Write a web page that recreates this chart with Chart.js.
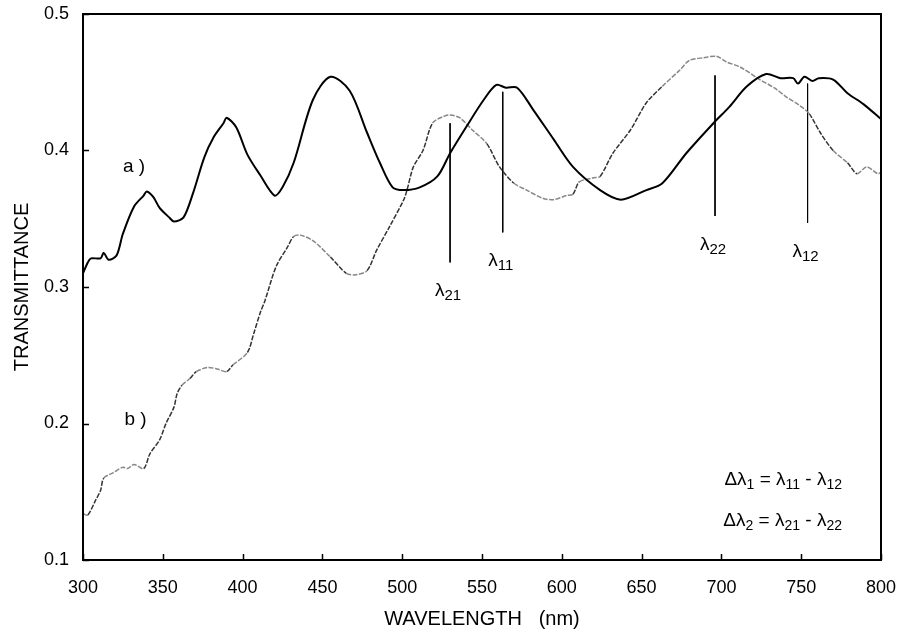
<!DOCTYPE html>
<html>
<head>
<meta charset="utf-8">
<script src="https://cdn.jsdelivr.net/npm/chart.js@4.4.1/dist/chart.umd.min.js"></script>
<style>
  body { margin: 0; background: #fff; }
</style>
</head>
<body>
<canvas id="spectrumChart" width="899" height="634"></canvas>
<script>
// curve a) (solid)
var wavelengthA = [300, 303, 305, 311, 313, 316, 321, 325, 332, 338, 340, 344, 348, 354, 357, 363, 369, 376, 382, 388,
    390, 396, 403, 411, 420, 425, 432, 444, 455, 467, 478, 486, 494, 501, 511, 522, 530, 540, 551, 559,
    565, 572, 582, 595, 607, 624, 637, 653, 663, 678, 695, 705, 716, 728, 737, 745, 748, 752, 757, 761,
    770, 779, 789, 800];
var transmittanceA = [0.310, 0.318, 0.321, 0.321, 0.325, 0.320, 0.323, 0.339, 0.359, 0.367, 0.370, 0.366, 0.358, 0.351, 0.348, 0.351, 0.369, 0.395, 0.410, 0.420,
    0.424, 0.417, 0.397, 0.382, 0.367, 0.373, 0.391, 0.437, 0.454, 0.444, 0.413, 0.391, 0.373, 0.371, 0.373, 0.381, 0.398, 0.417, 0.437, 0.448,
    0.446, 0.446, 0.430, 0.408, 0.388, 0.371, 0.364, 0.371, 0.376, 0.398, 0.420, 0.432, 0.447, 0.456, 0.453, 0.453, 0.449, 0.454, 0.451, 0.453,
    0.452, 0.442, 0.434, 0.423];

// curve b) (dashed)
var wavelengthB = [300, 303, 308, 311, 313, 319, 325, 328, 332, 338, 342, 348, 352, 357, 359, 362, 367, 371, 378, 384,
    390, 394, 403, 407, 411, 414, 421, 428, 432, 436, 444, 455, 465, 471, 478, 484, 492, 501, 503, 507,
    513, 519, 526, 530, 536, 544, 553, 561, 570, 578, 588, 595, 603, 607, 611, 620, 624, 632, 643, 653,
    663, 674, 680, 689, 697, 703, 712, 724, 733, 741, 749, 755, 762, 770, 779, 785, 791, 798, 800];
var transmittanceB = [0.134, 0.133, 0.144, 0.151, 0.160, 0.164, 0.168, 0.167, 0.170, 0.167, 0.178, 0.188, 0.200, 0.212, 0.222, 0.228, 0.233, 0.238, 0.241, 0.240,
    0.238, 0.243, 0.252, 0.266, 0.281, 0.290, 0.315, 0.329, 0.337, 0.338, 0.334, 0.322, 0.310, 0.309, 0.312, 0.327, 0.344, 0.364, 0.371, 0.388,
    0.400, 0.420, 0.425, 0.426, 0.424, 0.415, 0.405, 0.388, 0.376, 0.371, 0.365, 0.364, 0.367, 0.368, 0.377, 0.380, 0.381, 0.398, 0.415, 0.435,
    0.447, 0.459, 0.466, 0.468, 0.469, 0.465, 0.461, 0.452, 0.446, 0.439, 0.433, 0.427, 0.413, 0.400, 0.391, 0.383, 0.388, 0.383, 0.384];

// lambda marker lines
var markerNames = ['21', '11', '22', '12'];
var markerNm = [530, 563, 696, 754];
var markerTop = [0.420, 0.443, 0.455, 0.449];
var markerBottom = [0.318, 0.340, 0.352, 0.347];

// curve labels
var curveLabels = ['a )', 'b )'];
var curveLabelNm = [325, 326];
var curveLabelT = [0.384, 0.199];

var FONT = "'Liberation Sans', Arial, sans-serif";

function toPoints(xs, ys) {
    return xs.map(function (x, i) { return { x: x, y: ys[i] }; });
}

var markerSets = markerNm.map(function (nm, i) {
    return {
        data: [{ x: nm, y: markerTop[i] }, { x: nm, y: markerBottom[i] }],
        borderColor: '#000',
        borderWidth: 1,
        pointRadius: 0,
        tension: 0
    };
});

// draws text with subscripts, parts = [[text, isSub], ...]
function drawRich(ctx, parts, x, y, align, size, subSize) {
    var w = 0;
    parts.forEach(function (p) {
        ctx.font = (p[1] ? subSize : size) + 'px ' + FONT;
        w += ctx.measureText(p[0]).width;
    });
    var cx = align === 'right' ? x - w : (align === 'center' ? x - w / 2 : x);
    parts.forEach(function (p) {
        ctx.font = (p[1] ? subSize : size) + 'px ' + FONT;
        ctx.fillText(p[0], cx, p[1] ? y + 4 : y);
        cx += ctx.measureText(p[0]).width;
    });
}

var decorations = {
    id: 'decorations',
    afterDraw: function (chart) {
        var ctx = chart.ctx;
        var area = chart.chartArea;
        var xs = chart.scales.x, ys = chart.scales.y;
        ctx.save();
        ctx.strokeStyle = '#000';
        ctx.fillStyle = '#000';

        // frame
        ctx.lineWidth = 2;
        ctx.strokeRect(area.left, area.top, area.right - area.left, area.bottom - area.top);

        // inward ticks
        ctx.lineWidth = 1.5;
        ctx.beginPath();
        xs.ticks.forEach(function (t) {
            var px = Math.round(xs.getPixelForValue(t.value)) + 0.5;
            ctx.moveTo(px, area.bottom);
            ctx.lineTo(px, area.bottom - 6);
        });
        ys.ticks.forEach(function (t) {
            var py = Math.round(ys.getPixelForValue(t.value)) + 0.5;
            ctx.moveTo(area.left, py);
            ctx.lineTo(area.left + 6, py);
        });
        ctx.stroke();

        ctx.textBaseline = 'alphabetic';
        ctx.textAlign = 'left';

        // marker labels
        markerNm.forEach(function (nm, i) {
            var px = xs.getPixelForValue(nm);
            var py = ys.getPixelForValue(markerBottom[i]) + 34;
            drawRich(ctx, [['\u03bb', 0], [markerNames[i], 1]], px - 2, py, 'center', 19, 15);
        });

        // curve labels
        ctx.font = '19px ' + FONT;
        curveLabels.forEach(function (txt, i) {
            ctx.fillText(txt, xs.getPixelForValue(curveLabelNm[i]), ys.getPixelForValue(curveLabelT[i]));
        });

        // formulas
        drawRich(ctx, [['\u0394\u03bb', 0], ['1', 1], [' = \u03bb', 0], ['11', 1], [' - \u03bb', 0], ['12', 1]],
            area.right - 39, area.bottom - 75, 'right', 19, 14);
        drawRich(ctx, [['\u0394\u03bb', 0], ['2', 1], [' = \u03bb', 0], ['21', 1], [' - \u03bb', 0], ['22', 1]],
            area.right - 39, area.bottom - 34, 'right', 19, 14);
        ctx.restore();
    }
};

// steep parts of the dashed scan look darker than the flat ones
function dashedColor(c) {
    var dx = Math.abs(c.p1.x - c.p0.x) || 1;
    return Math.abs(c.p1.y - c.p0.y) / dx > 1.0 ? '#333' : '#888';
}

var ctx = document.getElementById('spectrumChart').getContext('2d');
var chart = new Chart(ctx, {
    type: 'line',
    data: {
        datasets: [{
            label: 'a',
            data: toPoints(wavelengthA, transmittanceA),
            borderColor: '#000',
            borderWidth: 2,
            pointRadius: 0,
            tension: 0.3
        }, {
            label: 'b',
            data: toPoints(wavelengthB, transmittanceB),
            borderColor: '#777',
            borderWidth: 1.5,
            borderDash: [5, 1.5],
            segment: { borderColor: dashedColor },
            pointRadius: 0,
            tension: 0.3
        }].concat(markerSets)
    },
    options: {
        responsive: false,
        animation: false,
        layout: { padding: { left: 0, top: 14, right: 18, bottom: 0 } },
        plugins: { legend: { display: false }, tooltip: { enabled: false } },
        scales: {
            x: {
                type: 'linear',
                min: 300,
                max: 800,
                afterFit: function (s) { s.height = 74; s.paddingLeft = 0; s.paddingRight = 0; },
                grid: { display: false, drawTicks: false },
                border: { display: false },
                ticks: {
                    stepSize: 50,
                    padding: 17,
                    color: '#000',
                    font: { family: FONT, size: 18 }
                },
                title: {
                    display: true,
                    text: 'WAVELENGTH   (nm)',
                    color: '#000',
                    font: { family: FONT, size: 20 },
                    padding: { top: 0, bottom: 3 }
                }
            },
            y: {
                min: 0.1,
                max: 0.5,
                afterFit: function (s) { s.width = 83; s.paddingTop = 0; s.paddingBottom = 0; },
                grid: { display: false, drawTicks: false },
                border: { display: false },
                ticks: {
                    stepSize: 0.1,
                    padding: 14,
                    color: '#000',
                    font: { family: FONT, size: 18 },
                    callback: function (v) { return v.toFixed(1); }
                },
                title: {
                    display: true,
                    text: 'TRANSMITTANCE',
                    color: '#000',
                    font: { family: FONT, size: 20 },
                    padding: { top: 10, bottom: 0 }
                }
            }
        }
    },
    plugins: [decorations]
});
</script>
</body>
</html>
